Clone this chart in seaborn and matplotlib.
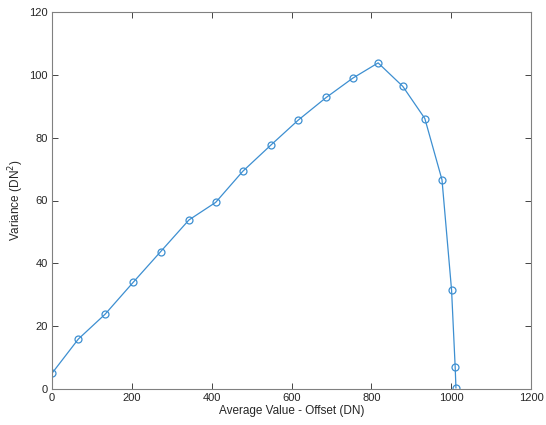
import matplotlib
matplotlib.use("Agg")
import matplotlib.pyplot as plt
import seaborn as sns
import pandas as pd

avg_value = [0, 66, 133, 203, 272, 343, 410, 478, 548, 617, 687, 753, 817, 879, 934, 977, 1001, 1010, 1012]
variance = [5.0, 15.9, 23.8, 33.9, 43.7, 53.8, 59.4, 69.3, 77.6, 85.6, 92.8, 98.9, 103.8, 96.3, 86.1, 66.6, 31.5, 7.1, 0.3]
x_ticks = [0, 200, 400, 600, 800, 1000, 1200]
y_ticks = [0, 20, 40, 60, 80, 100, 120]

df = pd.DataFrame({"x": avg_value, "y": variance})

sns.set_style("white")
plt.rcParams['font.family'] = ['Liberation Sans', 'DejaVu Sans']

fig = plt.figure(figsize=(5.46, 4.25), dpi=100)
ax = fig.add_axes([52/546, 1-389/425, (531-52)/546, (389-12)/425])

color = "#3d8fd1"
sns.lineplot(data=df, x="x", y="y", ax=ax, sort=False, color=color, linewidth=0.9,
             marker="o", markersize=5, markerfacecolor="none",
             markeredgecolor=color, markeredgewidth=0.9)

ax.set_xlim(0, 1200)
ax.set_ylim(0, 120)
ax.set_xticks(x_ticks)
ax.set_yticks(y_ticks)
ax.tick_params(direction="in", length=4, width=0.6, colors="#262626", labelsize=8,
               top=True, right=True, bottom=True, left=True, pad=3)
for s in ax.spines.values():
    s.set_color("#808080")
    s.set_linewidth(0.8)
ax.set_xlabel("Average Value - Offset (DN)", fontsize=8.5, color="#262626", labelpad=1.5)
ax.set_ylabel("Variance (DN$^2$)", fontsize=8.5, color="#262626", labelpad=2)

fig.savefig("out.png", dpi=100)
